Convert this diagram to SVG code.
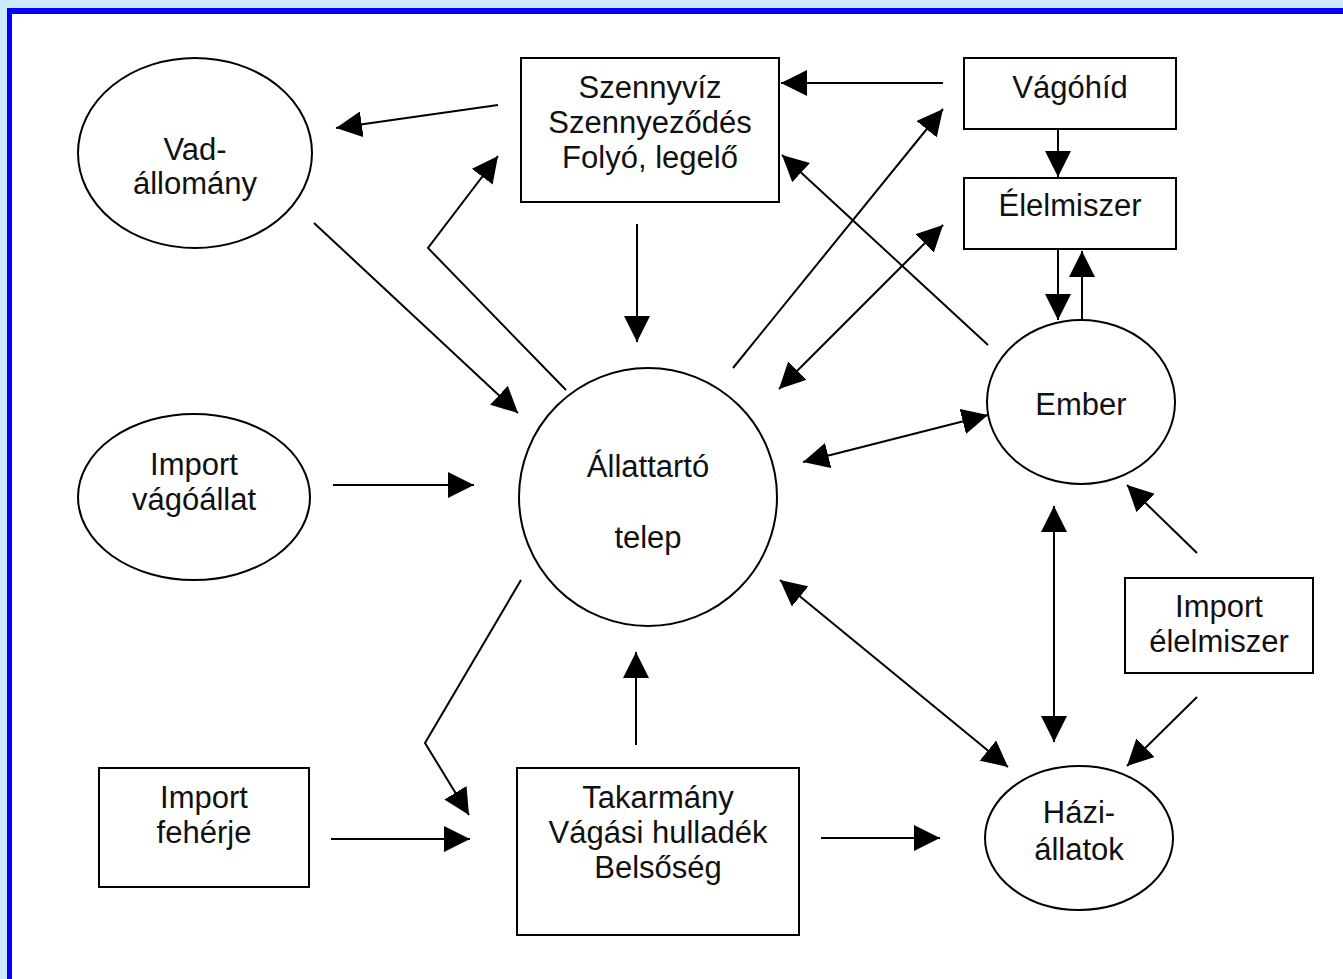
<svg xmlns="http://www.w3.org/2000/svg" width="1343" height="979" viewBox="0 0 1343 979">
<defs>
<style>
.n{fill:none;stroke:#000;stroke-width:2}
.t{font-family:"Liberation Sans",Arial,sans-serif;font-size:31px;fill:#111;text-anchor:middle}
.c{fill:none;stroke:#000;stroke-width:2}
</style>
<marker id="ah" markerUnits="userSpaceOnUse" markerWidth="26" markerHeight="26" refX="24" refY="12" orient="auto-start-reverse" viewBox="0 0 24 24">
<path d="M0,0 L24,12 L0,24 z" fill="#000"/>
</marker>
</defs>
<rect x="0" y="0" width="1343" height="979" fill="#fff"/>
<rect x="0" y="0" width="1343" height="8" fill="#cdeaff"/>
<rect x="0" y="0" width="7" height="979" fill="#cdeaff"/>
<rect x="7" y="8" width="1336" height="6" fill="#0000ff"/>
<rect x="7" y="8" width="5" height="971" fill="#0000ff"/>

<g id="vad">
<ellipse class="n" cx="195" cy="153" rx="117" ry="95"/>
<text class="t" x="195" y="160">Vad-</text>
<text class="t" x="195" y="194">állomány</text>
</g>
<g id="szennyviz">
<rect class="n" x="521" y="58" width="258" height="144"/>
<text class="t" x="650" y="98">Szennyvíz</text>
<text class="t" x="650" y="133">Szennyeződés</text>
<text class="t" x="650" y="168">Folyó, legelő</text>
</g>
<g id="vagohid">
<rect class="n" x="964" y="58" width="212" height="71"/>
<text class="t" x="1070" y="98">Vágóhíd</text>
</g>
<g id="elelmiszer">
<rect class="n" x="964" y="178" width="212" height="71"/>
<text class="t" x="1070" y="216">Élelmiszer</text>
</g>
<g id="ember">
<ellipse class="n" cx="1081" cy="402" rx="94" ry="82"/>
<text class="t" x="1081" y="415">Ember</text>
</g>
<g id="allattarto">
<circle class="n" cx="648" cy="497" r="129"/>
<text class="t" x="648" y="477">Állattartó</text>
<text class="t" x="648" y="548">telep</text>
</g>
<g id="import-vagoallat">
<ellipse class="n" cx="194" cy="497" rx="116" ry="83"/>
<text class="t" x="194" y="475">Import</text>
<text class="t" x="194" y="510">vágóállat</text>
</g>
<g id="import-feherje">
<rect class="n" x="99" y="768" width="210" height="119"/>
<text class="t" x="204" y="808">Import</text>
<text class="t" x="204" y="843">fehérje</text>
</g>
<g id="takarmany">
<rect class="n" x="517" y="768" width="282" height="167"/>
<text class="t" x="658" y="808">Takarmány</text>
<text class="t" x="658" y="843">Vágási hulladék</text>
<text class="t" x="658" y="878">Belsőség</text>
</g>
<g id="hazi">
<ellipse class="n" cx="1079" cy="838" rx="94" ry="72"/>
<text class="t" x="1079" y="823">Házi-</text>
<text class="t" x="1079" y="860">állatok</text>
</g>
<g id="import-elelmiszer">
<rect class="n" x="1125" y="578" width="188" height="95"/>
<text class="t" x="1219" y="617">Import</text>
<text class="t" x="1219" y="652">élelmiszer</text>
</g>

<g id="connectors">
<line class="c" x1="943" y1="83" x2="781" y2="83" marker-end="url(#ah)"/>
<line class="c" x1="498" y1="105" x2="336" y2="128" marker-end="url(#ah)"/>
<polyline class="c" points="566,390 428,248 498,156" marker-end="url(#ah)"/>
<line class="c" x1="637" y1="224" x2="637" y2="342" marker-end="url(#ah)"/>
<line class="c" x1="314" y1="223" x2="518" y2="413" marker-end="url(#ah)"/>
<line class="c" x1="733" y1="368" x2="943" y2="109" marker-end="url(#ah)"/>
<line class="c" x1="779" y1="389" x2="943" y2="225" marker-start="url(#ah)" marker-end="url(#ah)"/>
<line class="c" x1="988" y1="345" x2="782" y2="155" marker-end="url(#ah)"/>
<line class="c" x1="1058" y1="129" x2="1058" y2="177" marker-end="url(#ah)"/>
<line class="c" x1="1058" y1="249" x2="1058" y2="320" marker-end="url(#ah)"/>
<line class="c" x1="1082" y1="319" x2="1082" y2="251" marker-end="url(#ah)"/>
<line class="c" x1="803" y1="462" x2="988" y2="415" marker-start="url(#ah)" marker-end="url(#ah)"/>
<line class="c" x1="1054" y1="506" x2="1054" y2="742" marker-start="url(#ah)" marker-end="url(#ah)"/>
<line class="c" x1="1197" y1="553" x2="1127" y2="485" marker-end="url(#ah)"/>
<line class="c" x1="1197" y1="697" x2="1127" y2="766" marker-end="url(#ah)"/>
<line class="c" x1="333" y1="485" x2="474" y2="485" marker-end="url(#ah)"/>
<line class="c" x1="780" y1="580" x2="1008" y2="767" marker-start="url(#ah)" marker-end="url(#ah)"/>
<polyline class="c" points="521,580 425,743 469,815" marker-end="url(#ah)"/>
<line class="c" x1="636" y1="745" x2="636" y2="652" marker-end="url(#ah)"/>
<line class="c" x1="331" y1="839" x2="470" y2="839" marker-end="url(#ah)"/>
<line class="c" x1="821" y1="838" x2="940" y2="838" marker-end="url(#ah)"/>
</g>
</svg>
